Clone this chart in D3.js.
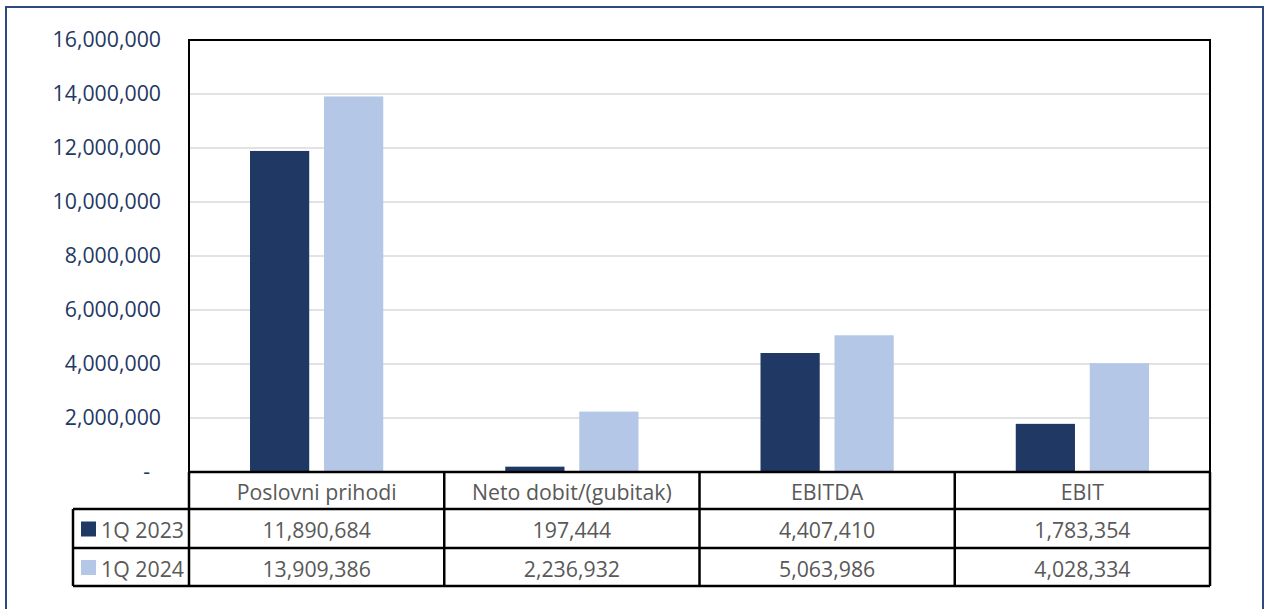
<!DOCTYPE html>
<html>
<head>
<meta charset="UTF-8">
<title>1Q 2023 / 1Q 2024</title>
<style>
body { margin: 0; background: #ffffff; }
svg { display: block; }
</style>
</head>
<body>
<script src="https://cdn.jsdelivr.net/npm/d3@7"></script>
<script>
// chart data
var categories = ["Poslovni prihodi", "Neto dobit/(gubitak)", "EBITDA", "EBIT"];
var seriesNames = ["1Q 2023", "1Q 2024"];
var values2023 = [11890684, 197444, 4407410, 1783354];
var values2024 = [13909386, 2236932, 5063986, 4028334];
var yTicks = [0, 2000000, 4000000, 6000000, 8000000, 10000000, 12000000, 14000000, 16000000];
var colors = ["#203864", "#b4c7e7"];

var width = 1270, height = 609;
var font = "'Open Sans', 'Noto Sans', sans-serif";
var fontSize = "21.3px";

var plot = {left: 189, right: 1210, top: 40, bottom: 472};
var rowH = [472, 509, 548, 586];   // table row boundaries
var legendLeft = 73;

var svg = d3.select("body").append("svg")
  .attr("width", width)
  .attr("height", height);

// outer chart frame
svg.append("rect")
  .attr("x", 6).attr("y", 7)
  .attr("width", 1257).attr("height", 640)
  .attr("fill", "#ffffff")
  .attr("stroke", "#2c4a80")
  .attr("stroke-width", 2);

var x0 = d3.scaleBand()
  .domain(categories)
  .range([plot.left, plot.right]);

var x1 = d3.scaleBand()
  .domain(seriesNames)
  .range([x0.bandwidth() * 0.239, x0.bandwidth() * 0.761])
  .paddingInner(0.2);

var y = d3.scaleLinear()
  .domain([0, 16000000])
  .range([plot.bottom, plot.top]);

var fmt = d3.format(",");

// gridlines
svg.append("g")
  .selectAll("line")
  .data(yTicks.filter(function(d){ return d > 0 && d < 16000000; }))
  .enter().append("line")
  .attr("x1", plot.left).attr("x2", plot.right)
  .attr("y1", function(d){ return y(d); })
  .attr("y2", function(d){ return y(d); })
  .attr("stroke", "#d9d9d9")
  .attr("stroke-width", 1.5);

// y axis labels
var yAxis = d3.axisLeft(y)
  .tickValues(yTicks)
  .tickSize(0)
  .tickPadding(28)
  .tickFormat(function(d){ return d === 0 ? "-" : fmt(d); });
var yg = svg.append("g")
  .attr("transform", "translate(" + plot.left + ",0)")
  .call(yAxis);
yg.select(".domain").remove();
yg.selectAll("text")
  .attr("fill", "#1f3864")
  .style("font-family", font)
  .style("font-size", fontSize);
yg.selectAll(".tick").filter(function(d){ return d === 0; })
  .select("text").attr("dx", -11);

// bars
var seriesData = [values2023, values2024];
var groups = svg.append("g")
  .selectAll("g")
  .data(categories)
  .enter().append("g")
  .attr("transform", function(d){ return "translate(" + x0(d) + ",0)"; });

groups.selectAll("rect")
  .data(function(d, i){
    return seriesNames.map(function(s, j){ return {s: s, v: seriesData[j][i], j: j}; });
  })
  .enter().append("rect")
  .attr("x", function(d){ return x1(d.s); })
  .attr("width", x1.bandwidth())
  .attr("y", function(d){ return y(d.v); })
  .attr("height", function(d){ return y(0) - y(d.v); })
  .attr("fill", function(d){ return colors[d.j]; });

// plot area border
svg.append("rect")
  .attr("x", plot.left).attr("y", plot.top)
  .attr("width", plot.right - plot.left)
  .attr("height", plot.bottom - plot.top)
  .attr("fill", "none")
  .attr("stroke", "#000000")
  .attr("stroke-width", 2);

// data table
var table = svg.append("g");
var lineStyle = function(sel){
  sel.attr("stroke", "#000000").attr("stroke-width", 2.5);
};

// horizontal lines
table.selectAll("line.h")
  .data(rowH)
  .enter().append("line")
  .attr("class", "h")
  .attr("x1", function(d, i){ return i === 0 ? plot.left : legendLeft; })
  .attr("x2", plot.right)
  .attr("y1", function(d){ return d; })
  .attr("y2", function(d){ return d; })
  .call(lineStyle);

// vertical lines
var colEdges = categories.map(function(c){ return x0(c); }).concat([plot.right]);
table.selectAll("line.v")
  .data(colEdges)
  .enter().append("line")
  .attr("class", "v")
  .attr("x1", function(d){ return d; })
  .attr("x2", function(d){ return d; })
  .attr("y1", rowH[0])
  .attr("y2", rowH[3])
  .call(lineStyle);
table.append("line")
  .attr("x1", legendLeft).attr("x2", legendLeft)
  .attr("y1", rowH[1]).attr("y2", rowH[3])
  .call(lineStyle);

var textStyle = function(sel){
  sel.attr("fill", "#595959")
    .style("font-family", font)
    .style("font-size", fontSize)
    .attr("dominant-baseline", "central");
};

// header row
table.selectAll("text.cat")
  .data(categories)
  .enter().append("text")
  .attr("class", "cat")
  .attr("x", function(d){ return x0(d) + x0.bandwidth() / 2; })
  .attr("y", (rowH[0] + rowH[1]) / 2 + 1)
  .attr("text-anchor", "middle")
  .text(function(d){ return d; })
  .call(textStyle);

// value rows
seriesNames.forEach(function(s, j){
  var cy = (rowH[j + 1] + rowH[j + 2]) / 2 + 1;
  table.selectAll("text.val" + j)
    .data(seriesData[j])
    .enter().append("text")
    .attr("class", "val" + j)
    .attr("x", function(d, i){ return x0(categories[i]) + x0.bandwidth() / 2; })
    .attr("y", cy)
    .attr("text-anchor", "middle")
    .text(function(d){ return fmt(d); })
    .call(textStyle);

  // legend key
  table.append("rect")
    .attr("x", 81).attr("y", cy - 8)
    .attr("width", 15).attr("height", 15)
    .attr("fill", colors[j]);
  table.append("text")
    .attr("x", 101)
    .attr("y", cy)
    .text(s)
    .call(textStyle);
});
</script>
</body>
</html>
